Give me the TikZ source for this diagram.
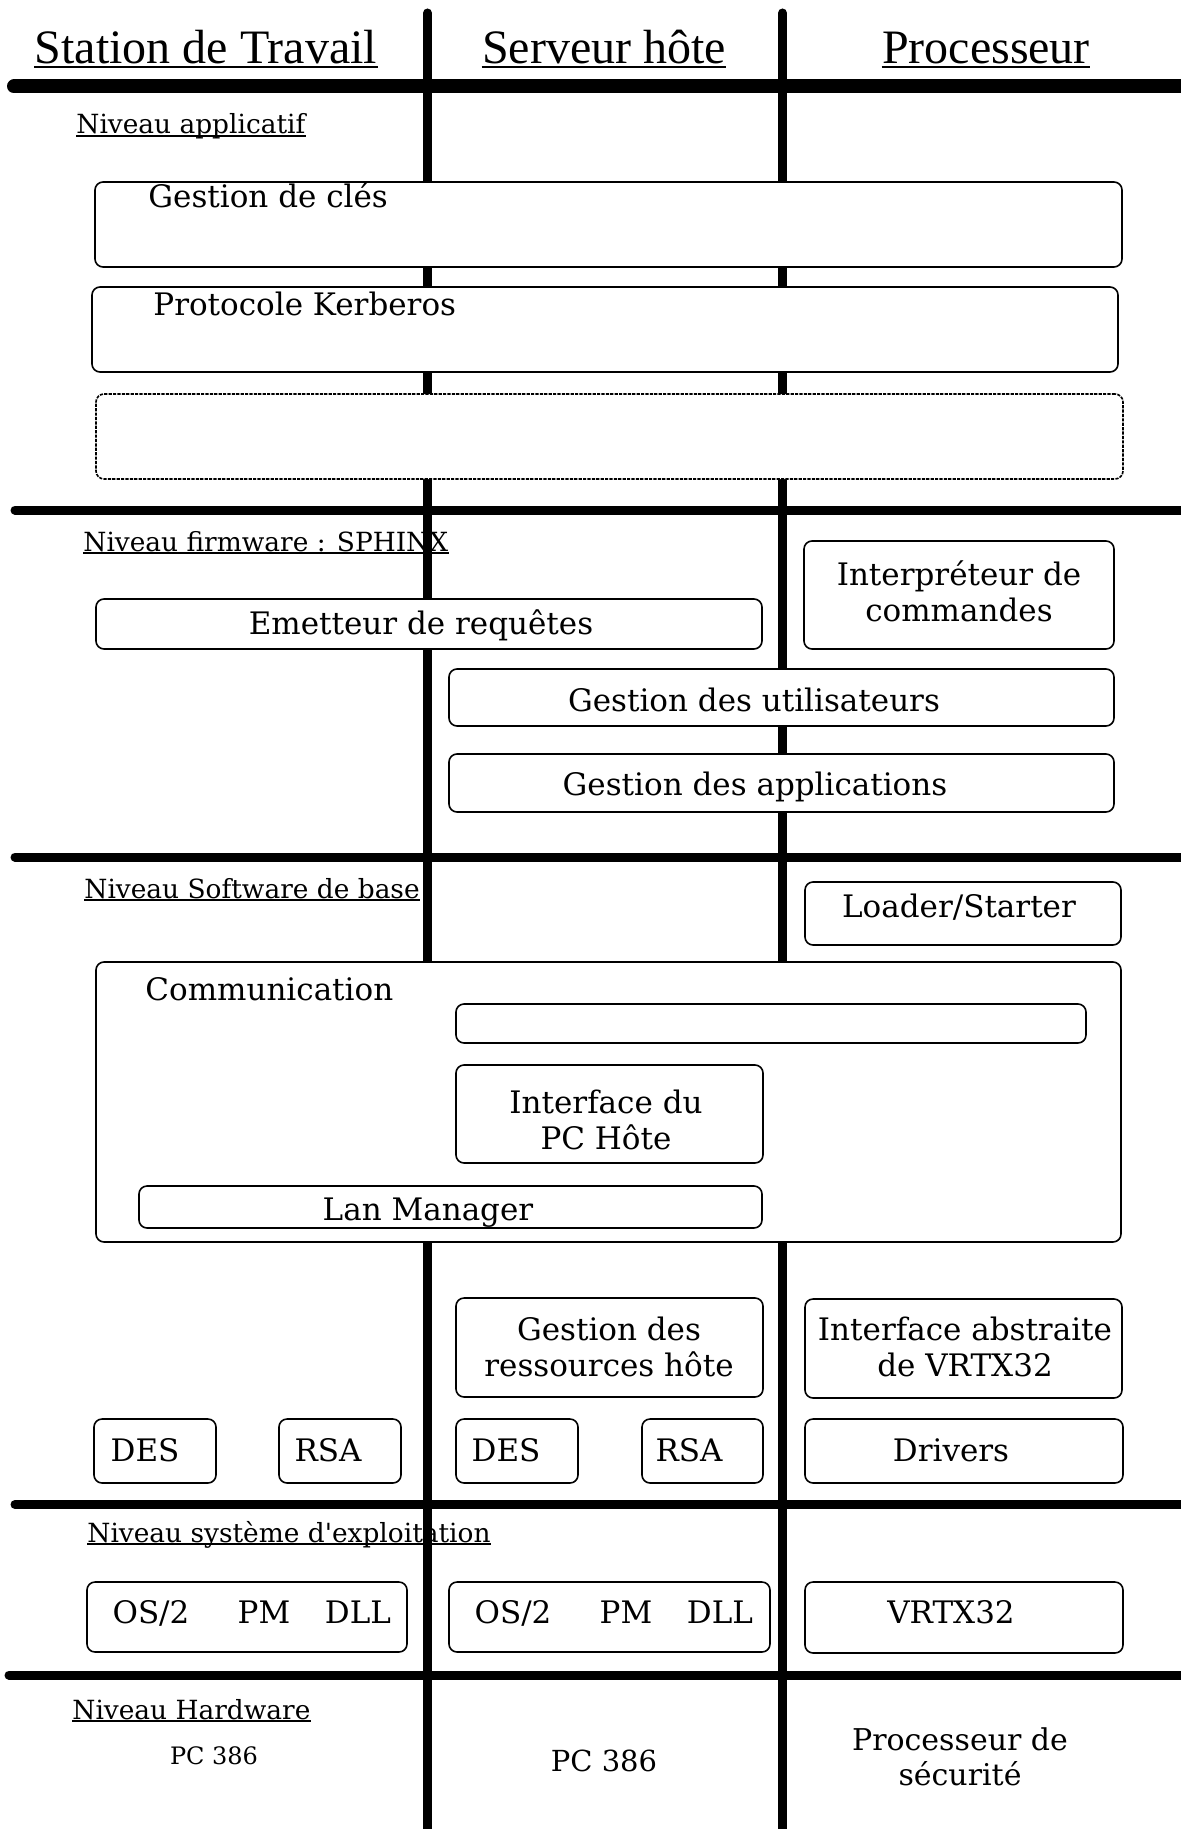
\documentclass[tikz,border=0pt]{standalone}
\usepackage{fontspec}
\setmainfont{DejaVu Serif}
\newfontfamily\headfam{Liberation Serif}
\newfontfamily\lvlfam{DejaVu Serif}[Ligatures=TeXOff]
\usetikzlibrary{fit}

\newcommand\boxfont{\fontsize{15.5pt}{18pt}\selectfont}
\newcommand\lvlfont{\lvlfam\fontsize{13.2pt}{15pt}\selectfont}
\newcommand\headfont{\headfam\fontsize{24pt}{28pt}\selectfont}

\tikzset{
  box/.style={draw, line width=0.8pt, rounded corners=4pt, fill=white, inner sep=0pt},
  dbox/.style={box, dash pattern=on 1.6pt off 0.6pt},
  boxtxt/.style={font=\boxfont, inner sep=0pt},
  lvl/.style={font=\lvlfont, inner sep=0pt, anchor=base west},
  head/.style={font=\headfont, inner sep=0pt, anchor=base},
  rule/.style={line width=4.5pt, line cap=round},
  toprule/.style={line width=7pt, line cap=round},
  ulline/.style={line width=1pt},
}

\begin{document}
\begin{tikzpicture}[x=0.5pt,y=-0.5pt]
\useasboundingbox[fill=white] (0,0) rectangle (1181,1829);

% column headings
\node[head] (hst) at (206,64) {Station de Travail};
\node[head] (hsv) at (604,64) {Serveur hôte};
\node[head] (hpr) at (986,64) {Processeur};

% level titles
\node[lvl] (lapp) at (76,134) {Niveau applicatif};
\node[lvl] (lfw)  at (83,551) {Niveau firmware : SPHINX};
\node[lvl] (lsw)  at (84,898) {Niveau Software de base};
\node[lvl] (los)  at (87,1542) {Niveau système d'exploitation};
\node[lvl] (lhw)  at (72,1719) {Niveau Hardware};

\foreach \n in {hst,hsv,hpr}
  \draw[ulline] ([yshift=-1.6pt]\n.base west) -- ([yshift=-1.6pt]\n.base east);
\foreach \n in {lapp,lfw,lsw,los,lhw}
  \draw[ulline] ([yshift=-1.1pt]\n.base west) -- ([yshift=-1.1pt]\n.base east);

% column separators
\coordinate (v1t) at (427.5,13); \coordinate (v1b) at (427.5,1845);
\coordinate (v2t) at (782.5,13); \coordinate (v2b) at (782.5,1845);
\draw[rule] (v1t) -- (v1b);
\draw[rule] (v2t) -- (v2b);

% level separators
\coordinate (h0l) at (14,86.5);  \coordinate (h0r) at (1200,86.5);
\coordinate (h1l) at (15,510);   \coordinate (h1r) at (1200,510);
\coordinate (h2l) at (15,857);   \coordinate (h2r) at (1200,857);
\coordinate (h3l) at (15,1504.5);\coordinate (h3r) at (1200,1504.5);
\coordinate (h4l) at (9,1675);   \coordinate (h4r) at (1200,1675);
\draw[toprule] (h0l) -- (h0r);
\draw[rule] (h1l) -- (h1r);
\draw[rule] (h2l) -- (h2r);
\draw[rule] (h3l) -- (h3r);
\draw[rule] (h4l) -- (h4r);

% application level
\node[box, fit={(95,182)(1122,267)}] (cles) {};
\node[boxtxt, anchor=base west] (clesT) at (148,208) {Gestion de clés};
\node[box, fit={(92,287)(1118,372)}] (kerb) {};
\node[boxtxt, anchor=base west] (kerbT) at (153,315) {Protocole Kerberos};
\node[dbox, fit={(96,394)(1123,479)}] (vide) {};

% firmware level
\node[box, fit={(804,541)(1114,649)}] (interp) {};
\node[boxtxt, align=center] (interpT) at (959,591) {Interpréteur de\\commandes};
\node[box, fit={(96,599)(762,649)}] (emet) {};
\node[boxtxt, anchor=base] (emetT) at (421,634) {Emetteur de requêtes};
\node[box, fit={(449,669)(1114,726)}] (util) {};
\node[boxtxt, anchor=base] (utilT) at (754,711) {Gestion des utilisateurs};
\node[box, fit={(449,754)(1114,812)}] (appl) {};
\node[boxtxt, anchor=base] (applT) at (755,795) {Gestion des applications};

% base software level
\node[box, fit={(805,882)(1121,945)}] (load) {};
\node[boxtxt, anchor=base] (loadT) at (959,917) {Loader/Starter};
\node[box, fit={(96,962)(1121,1242)}] (comm) {};
\node[boxtxt, anchor=base west] (commT) at (145,1000) {Communication};
\node[box, fit={(456,1004)(1086,1043)}] (commvide) {};
\node[box, fit={(456,1065)(763,1163)}] (ifpc) {};
\node[boxtxt, align=center] (ifpcT) at (606,1120) {Interface du\\PC Hôte};
\node[box, fit={(139,1186)(762,1228)}] (lan) {};
\node[boxtxt, anchor=base] (lanT) at (428,1220) {Lan Manager};

\node[box, fit={(456,1298)(763,1397)}] (ress) {};
\node[boxtxt, align=center] (ressT) at (609,1347) {Gestion des\\ressources hôte};
\node[box, fit={(805,1299)(1122,1398)}] (vabs) {};
\node[boxtxt, align=center] (vabsT) at (965,1347) {Interface abstraite\\de VRTX32};

\node[box, fit={(94,1419)(216,1483)}] (des1) {};
\node[boxtxt, anchor=base] (des1T) at (145,1461) {DES};
\node[box, fit={(279,1419)(401,1483)}] (rsa1) {};
\node[boxtxt, anchor=base] (rsa1T) at (328,1461) {RSA};
\node[box, fit={(456,1419)(578,1483)}] (des2) {};
\node[boxtxt, anchor=base] (des2T) at (506,1461) {DES};
\node[box, fit={(642,1419)(763,1483)}] (rsa2) {};
\node[boxtxt, anchor=base] (rsa2T) at (689,1461) {RSA};
\node[box, fit={(805,1419)(1123,1483)}] (drv) {};
\node[boxtxt, anchor=base] (drvT) at (951,1461) {Drivers};

% operating system level
\node[box, fit={(87,1582)(407,1652)}] (os1) {};
\node[boxtxt, anchor=base] (os1a) at (151,1623) {OS/2};
\node[boxtxt, anchor=base] (os1b) at (264,1623) {PM};
\node[boxtxt, anchor=base] (os1c) at (358,1623) {DLL};
\node[box, fit={(449,1582)(770,1652)}] (os2) {};
\node[boxtxt, anchor=base] (os2a) at (513,1623) {OS/2};
\node[boxtxt, anchor=base] (os2b) at (626,1623) {PM};
\node[boxtxt, anchor=base] (os2c) at (720,1623) {DLL};
\node[box, fit={(805,1582)(1123,1653)}] (vrtx) {};
\node[boxtxt, anchor=base] (vrtxT) at (951,1623) {VRTX32};

% hardware level
\node[inner sep=0pt, anchor=base, font=\fontsize{12pt}{14pt}\selectfont] (pcA) at (214,1764) {PC 386};
\node[inner sep=0pt, anchor=base, font=\fontsize{14.5pt}{17pt}\selectfont] (pcB) at (604,1771) {PC 386};
\node[inner sep=0pt, align=center, font=\fontsize{15pt}{17.5pt}\selectfont] (psec) at (960,1757) {Processeur de\\sécurité};
\end{tikzpicture}
\end{document}
